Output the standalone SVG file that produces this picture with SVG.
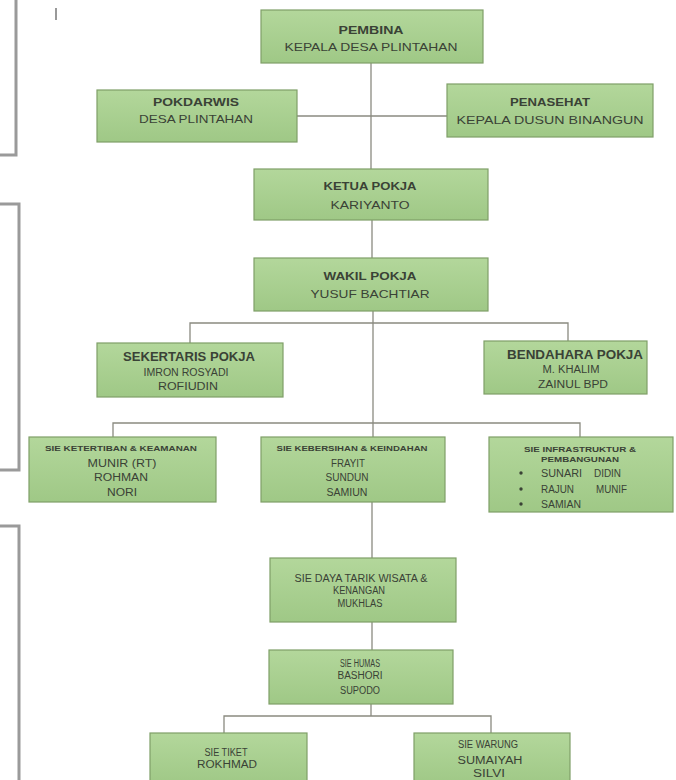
<svg xmlns="http://www.w3.org/2000/svg" width="676" height="780" viewBox="0 0 676 780">
<defs>
<linearGradient id="g" x1="0" y1="0" x2="0" y2="1">
<stop offset="0" stop-color="#b3d79b"/>
<stop offset="1" stop-color="#9fc886"/>
</linearGradient>
<style>
.box{fill:url(#g);stroke:#7f9f68;stroke-width:1.2}
.t{font-family:"Liberation Sans",Arial,sans-serif;fill:#3a4236;text-anchor:middle}
.l{text-anchor:start}
.b{font-weight:bold;font-size:11.5px}
.n{font-size:11px}
.s{font-size:10px}
.x{font-size:6.5px;font-weight:bold}
.ln{stroke:#8a8a80;stroke-width:1.3;fill:none}
.br{stroke:#9a9a9a;stroke-width:3;fill:none}
</style>
</defs>
<rect width="676" height="780" fill="#ffffff"/>
<g id="margins">
<polyline class="br" points="0,155 16,155 16,0"/>
<polyline class="br" points="0,204 19,204 19,470 0,470"/>
<polyline class="br" points="0,526 19,526 19,780"/>
<line x1="56" y1="8" x2="56" y2="20" stroke="#777" stroke-width="1.5"/>
</g>
<g id="connectors">
<line class="ln" x1="371" y1="62" x2="371" y2="169"/>
<line class="ln" x1="297" y1="116" x2="447" y2="116"/>
<line class="ln" x1="372" y1="220" x2="372" y2="258"/>
<line class="ln" x1="373" y1="311" x2="373" y2="437"/>
<polyline class="ln" points="190,343 190,323 568,323 568,341"/>
<polyline class="ln" points="113,437 113,423 580,423 580,437"/>
<line class="ln" x1="372" y1="502" x2="372" y2="558"/>
<line class="ln" x1="372" y1="622" x2="372" y2="650"/>
<line class="ln" x1="371" y1="704" x2="371" y2="716"/>
<polyline class="ln" points="224,733 224,716 491,716 491,733"/>
</g>
<g id="pembina">
<rect class="box" x="261" y="10" width="222" height="53"/>
<text class="t b" x="371" y="34" textLength="65" lengthAdjust="spacingAndGlyphs">PEMBINA</text>
<text class="t n" x="371" y="51" textLength="173" lengthAdjust="spacingAndGlyphs">KEPALA DESA PLINTAHAN</text>
</g>
<g id="pokdarwis">
<rect class="box" x="97" y="90" width="200" height="52"/>
<text class="t b" x="196" y="106" textLength="86" lengthAdjust="spacingAndGlyphs">POKDARWIS</text>
<text class="t n" x="196" y="123" textLength="114" lengthAdjust="spacingAndGlyphs">DESA PLINTAHAN</text>
</g>
<g id="penasehat">
<rect class="box" x="447" y="84" width="206" height="53"/>
<text class="t b" x="550" y="106" textLength="80" lengthAdjust="spacingAndGlyphs">PENASEHAT</text>
<text class="t n" x="550" y="124" textLength="187" lengthAdjust="spacingAndGlyphs">KEPALA DUSUN BINANGUN</text>
</g>
<g id="ketua">
<rect class="box" x="254" y="169" width="234" height="51"/>
<text class="t b" x="370" y="190" textLength="93" lengthAdjust="spacingAndGlyphs">KETUA POKJA</text>
<text class="t n" x="370" y="209" textLength="79" lengthAdjust="spacingAndGlyphs">KARIYANTO</text>
</g>
<g id="wakil">
<rect class="box" x="254" y="258" width="234" height="53"/>
<text class="t b" x="370" y="280" textLength="93" lengthAdjust="spacingAndGlyphs">WAKIL POKJA</text>
<text class="t n" x="370" y="298" textLength="119" lengthAdjust="spacingAndGlyphs">YUSUF BACHTIAR</text>
</g>
<g id="sekertaris">
<rect class="box" x="97" y="343" width="186" height="54"/>
<text class="t" x="189" y="361" font-size="12.5" font-weight="bold" textLength="132" lengthAdjust="spacingAndGlyphs">SEKERTARIS POKJA</text>
<text class="t s" x="186" y="376" textLength="85" lengthAdjust="spacingAndGlyphs">IMRON ROSYADI</text>
<text class="t s" x="188" y="390" textLength="60" lengthAdjust="spacingAndGlyphs">ROFIUDIN</text>
</g>
<g id="bendahara">
<rect class="box" x="484" y="341" width="163" height="53"/>
<text class="t" x="575" y="359" font-size="12" font-weight="bold" textLength="136" lengthAdjust="spacingAndGlyphs">BENDAHARA POKJA</text>
<text class="t s" x="571" y="373" textLength="57" lengthAdjust="spacingAndGlyphs">M. KHALIM</text>
<text class="t s" x="573" y="388" textLength="70" lengthAdjust="spacingAndGlyphs">ZAINUL BPD</text>
</g>
<g id="sie-ketertiban">
<rect class="box" x="29" y="437" width="187" height="65"/>
<text class="t x" x="121" y="451" textLength="152" lengthAdjust="spacingAndGlyphs">SIE KETERTIBAN &amp; KEAMANAN</text>
<text class="t s" x="122" y="467" textLength="69" lengthAdjust="spacingAndGlyphs">MUNIR (RT)</text>
<text class="t s" x="121" y="481" textLength="54" lengthAdjust="spacingAndGlyphs">ROHMAN</text>
<text class="t s" x="122" y="496" textLength="30" lengthAdjust="spacingAndGlyphs">NORI</text>
</g>
<g id="sie-kebersihan">
<rect class="box" x="261" y="437" width="184" height="65"/>
<text class="t x" x="352" y="451" textLength="151" lengthAdjust="spacingAndGlyphs">SIE KEBERSIHAN &amp; KEINDAHAN</text>
<text class="t s" x="348" y="467" textLength="34" lengthAdjust="spacingAndGlyphs">FRAYIT</text>
<text class="t s" x="347" y="481" textLength="43" lengthAdjust="spacingAndGlyphs">SUNDUN</text>
<text class="t s" x="347" y="496" textLength="41" lengthAdjust="spacingAndGlyphs">SAMIUN</text>
</g>
<g id="sie-infrastruktur">
<rect class="box" x="489" y="437" width="184" height="75"/>
<text class="t x" x="580" y="452" textLength="112" lengthAdjust="spacingAndGlyphs">SIE INFRASTRUKTUR &amp;</text>
<text class="t x" x="580" y="462" textLength="78" lengthAdjust="spacingAndGlyphs">PEMBANGUNAN</text>
<circle cx="521" cy="473" r="1.7" fill="#3a4236"/>
<circle cx="521" cy="489" r="1.7" fill="#3a4236"/>
<circle cx="521" cy="504" r="1.7" fill="#3a4236"/>
<text class="t s l" x="541" y="477" textLength="41" lengthAdjust="spacingAndGlyphs">SUNARI</text>
<text class="t s l" x="594" y="477" textLength="27" lengthAdjust="spacingAndGlyphs">DIDIN</text>
<text class="t s l" x="541" y="493" textLength="33" lengthAdjust="spacingAndGlyphs">RAJUN</text>
<text class="t s l" x="596" y="493" textLength="31" lengthAdjust="spacingAndGlyphs">MUNIF</text>
<text class="t s l" x="541" y="508" textLength="40" lengthAdjust="spacingAndGlyphs">SAMIAN</text>
</g>
<g id="sie-daya-tarik">
<rect class="box" x="270" y="558" width="186" height="64"/>
<text class="t s" x="361" y="582" textLength="133" lengthAdjust="spacingAndGlyphs">SIE DAYA TARIK WISATA &amp;</text>
<text class="t s" x="359" y="594" textLength="52" lengthAdjust="spacingAndGlyphs">KENANGAN</text>
<text class="t s" x="360" y="607" textLength="45" lengthAdjust="spacingAndGlyphs">MUKHLAS</text>
</g>
<g id="sie-humas">
<rect class="box" x="269" y="650" width="184" height="54"/>
<text class="t s" x="360" y="667" textLength="40" lengthAdjust="spacingAndGlyphs">SIE HUMAS</text>
<text class="t s" x="360" y="679" textLength="45" lengthAdjust="spacingAndGlyphs">BASHORI</text>
<text class="t s" x="360" y="694" textLength="40" lengthAdjust="spacingAndGlyphs">SUPODO</text>
</g>
<g id="sie-tiket">
<rect class="box" x="150" y="733" width="157" height="52"/>
<text class="t s" x="226" y="756" textLength="43" lengthAdjust="spacingAndGlyphs">SIE TIKET</text>
<text class="t s" x="227" y="768" textLength="60" lengthAdjust="spacingAndGlyphs">ROKHMAD</text>
</g>
<g id="sie-warung">
<rect class="box" x="414" y="733" width="156" height="52"/>
<text class="t s" x="488" y="748" textLength="60" lengthAdjust="spacingAndGlyphs">SIE WARUNG</text>
<text class="t s" x="490" y="764" textLength="65" lengthAdjust="spacingAndGlyphs">SUMAIYAH</text>
<text class="t s" x="489" y="777" textLength="32" lengthAdjust="spacingAndGlyphs">SILVI</text>
</g>
</svg>
